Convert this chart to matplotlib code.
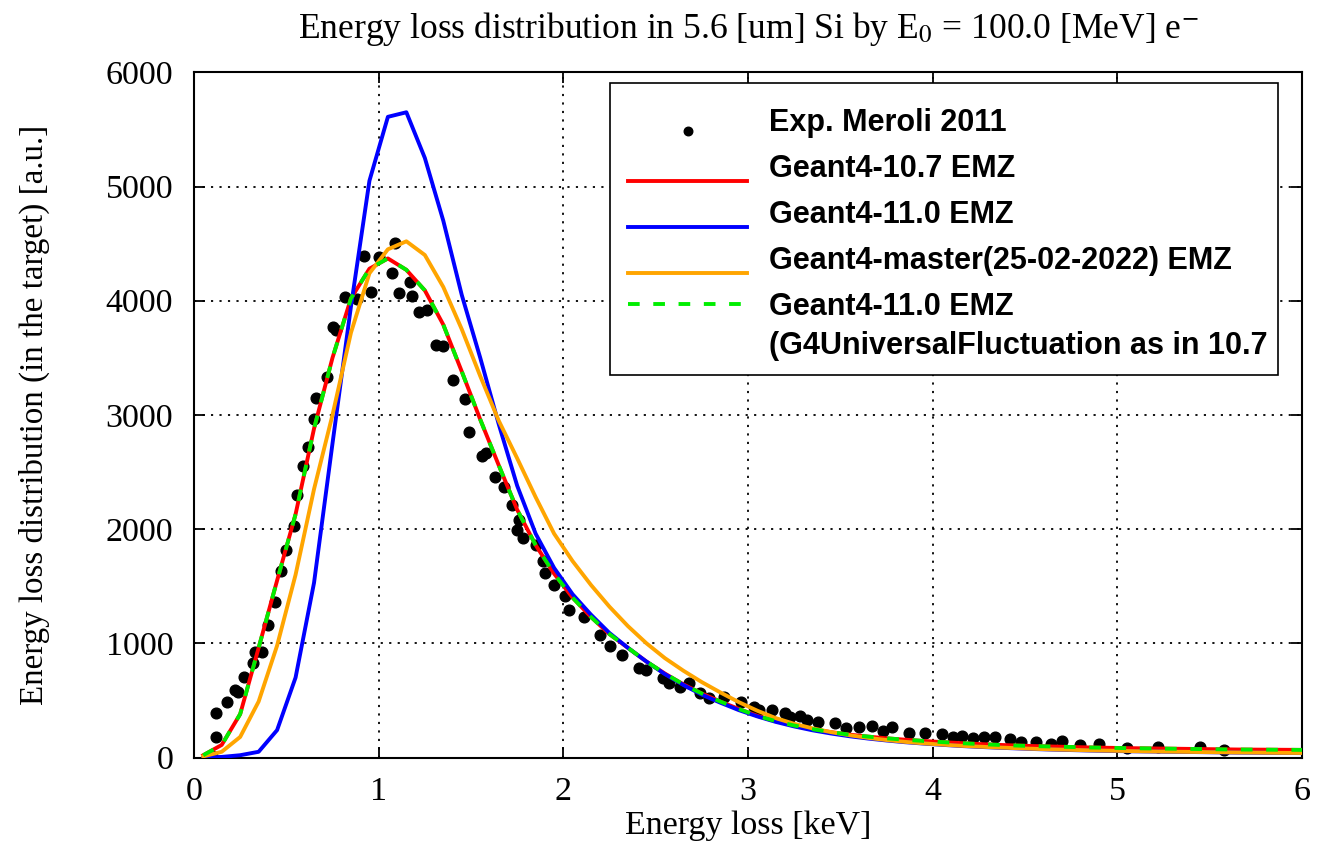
import numpy as np
import matplotlib
matplotlib.use("Agg")
import matplotlib.pyplot as plt
from matplotlib.legend_handler import HandlerLine2D
from matplotlib.font_manager import FontProperties
from matplotlib.patches import Rectangle

plt.rcParams['font.family'] = ['Liberation Serif', 'DejaVu Serif']
plt.rcParams['mathtext.fontset'] = 'stix'

# ---------------- data ----------------
# bin centres of the simulated distributions [keV]
energy_bins = np.round(np.arange(0.05, 6.1, 0.1), 2)

g4_107 = [20, 110, 380, 960, 1550, 2130, 2880, 3500, 4020, 4280,
          4370, 4270, 4090, 3790, 3380, 2960, 2560, 2170, 1860, 1610,
          1400, 1230, 1080, 960, 840, 735, 640, 560, 490, 425,
          365, 318, 280, 248, 222, 200, 183, 168, 156, 145,
          135, 126, 118, 111, 105, 100, 96, 92, 88, 85,
          82, 80, 78, 76, 74, 72, 70, 69, 68, 67, 66]

g4_110 = [0, 5, 20, 50, 240, 700, 1530, 2750, 3950, 5050,
          5610, 5650, 5250, 4700, 4050, 3500, 2920, 2380, 1960, 1660,
          1430, 1250, 1090, 960, 840, 730, 635, 550, 480, 415,
          360, 312, 272, 238, 210, 186, 166, 149, 134, 122,
          111, 101, 93, 86, 80, 74, 69, 65, 61, 58,
          55, 53, 51, 49, 47, 45, 43, 42, 40, 39, 38]

g4_master = [10, 50, 180, 490, 980, 1600, 2350, 3000, 3720, 4240,
             4450, 4520, 4400, 4120, 3750, 3340, 2950, 2620, 2280, 1960,
             1720, 1510, 1320, 1150, 1000, 870, 760, 660, 570, 485,
             410, 345, 295, 255, 222, 195, 172, 153, 137, 124,
             113, 103, 95, 88, 82, 76, 71, 67, 63, 60,
             57, 54, 52, 50, 48, 46, 44, 43, 41, 40, 39]

g4_110_uf107 = [20, 110, 380, 960, 1550, 2130, 2880, 3500, 4020, 4280,
                4370, 4270, 4090, 3790, 3380, 2960, 2560, 2170, 1860, 1610,
                1400, 1230, 1080, 960, 840, 735, 640, 560, 490, 425,
                365, 318, 280, 248, 222, 200, 183, 168, 156, 145,
                135, 126, 118, 111, 105, 100, 96, 92, 88, 85,
                82, 80, 78, 76, 74, 72, 70, 69, 68, 67, 66]

exp_x = [0.10, 0.12, 0.12, 0.18, 0.22, 0.24, 0.27, 0.32, 0.33, 0.37,
         0.40, 0.44, 0.47, 0.50, 0.54, 0.56, 0.59, 0.62, 0.65, 0.66,
         0.72, 0.75, 0.77, 0.82, 0.88, 0.92, 0.96, 1.00, 1.07, 1.09,
         1.11, 1.17, 1.18, 1.22, 1.26, 1.31, 1.35, 1.40, 1.47, 1.49,
         1.56, 1.58, 1.63, 1.68, 1.72, 1.75, 1.76, 1.78, 1.85, 1.89,
         1.90, 1.95, 2.01, 2.03, 2.11, 2.20, 2.25, 2.32, 2.41, 2.45,
         2.54, 2.57, 2.63, 2.68, 2.74, 2.79, 2.87, 2.96, 3.03, 3.06,
         3.13, 3.20, 3.23, 3.28, 3.32, 3.38, 3.47, 3.53, 3.60, 3.67,
         3.73, 3.78, 3.87, 3.96, 4.05, 4.11, 4.16, 4.22, 4.28, 4.34,
         4.42, 4.48, 4.56, 4.64, 4.70, 4.80, 4.90, 5.05, 5.22, 5.45,
         5.58]
exp_y = [10, 182, 387, 483, 591, 576, 708, 830, 927, 927,
         1160, 1359, 1636, 1817, 2027, 2299, 2552, 2722, 2961, 3145,
         3335, 3772, 3743, 4030, 4015, 4391, 4079, 4380, 4240, 4508,
         4070, 4166, 4041, 3904, 3919, 3612, 3603, 3306, 3137, 2853,
         2640, 2664, 2459, 2371, 2211, 1992, 2080, 1919, 1861, 1723,
         1613, 1511, 1414, 1292, 1233, 1073, 976, 898, 781, 766,
         694, 650, 620, 650, 562, 518, 532, 483, 445, 416,
         416, 387, 358, 363, 328, 314, 305, 255, 264, 279,
         235, 264, 217, 212, 206, 182, 191, 168, 177, 177,
         160, 135, 135, 120, 147, 109, 118, 80, 89, 89,
         66]

labels = ["Exp. Meroli 2011",
          "Geant4-10.7 EMZ",
          "Geant4-11.0 EMZ",
          "Geant4-master(25-02-2022) EMZ",
          "Geant4-11.0 EMZ\n(G4UniversalFluctuation as in 10.7"]

x_ticks = [0, 1, 2, 3, 4, 5, 6]
y_ticks = [0, 1000, 2000, 3000, 4000, 5000, 6000]


# ---------------- legend handler that shifts handles vertically ----------------
class ShiftedHandler(HandlerLine2D):
    def __init__(self, shift=0.0, **kw):
        super().__init__(**kw)
        self.shift = shift

    def create_artists(self, legend, orig_handle, xdescent, ydescent, width,
                       height, fontsize, trans):
        arts = super().create_artists(legend, orig_handle, xdescent, ydescent,
                                      width, height, fontsize, trans)
        for a in arts:
            a.set_ydata(np.asarray(a.get_ydata(), dtype=float) - self.shift)
        return arts


# ---------------- figure ----------------
W, H = 1317, 841
AX_L, AX_R, AX_T, AX_B = 194, 1302, 72.3, 757.5
fig = plt.figure(figsize=(W / 100, H / 100), dpi=100)
ax = fig.add_axes([AX_L / W, 1 - AX_B / H, (AX_R - AX_L) / W, (AX_B - AX_T) / H])


def px2ax(px, py):
    return (px - AX_L) / (AX_R - AX_L), (AX_B - py) / (AX_B - AX_T)


lw = 2.8
h_exp, = ax.plot(exp_x, exp_y, 'o', color='black', markersize=7.7,
                 linestyle='none', zorder=3)
h_red, = ax.plot(energy_bins, g4_107, color='#ff0000', lw=lw, zorder=4)
h_blue, = ax.plot(energy_bins, g4_110, color='#0000ff', lw=lw, zorder=5)
h_orange, = ax.plot(energy_bins, g4_master, color='#ffa500', lw=lw, zorder=6)
h_green, = ax.plot(energy_bins, g4_110_uf107, color='#00ee00', lw=lw,
                   dashes=(3, 3.5), zorder=7)

ax.set_xlim(0, 6)
ax.set_ylim(0, 6000)
ax.set_xticks(x_ticks)
ax.set_yticks(y_ticks)
ax.tick_params(direction='in', top=True, right=True, length=8, width=1.3,
               labelsize=24.5)
ax.tick_params(axis='x', pad=14)
ax.tick_params(axis='y', pad=15)
ax.grid(True, color='black', linestyle=(0, (1.2, 3.5)), linewidth=1.3)
for s in ax.spines.values():
    s.set_linewidth(1.5)

ax.set_xlabel("Energy loss [keV]", fontsize=24.5, labelpad=2)
ax.set_ylabel("Energy loss distribution (in the target) [a.u.]",
              fontsize=23.8, labelpad=40)
ax.set_title("Energy loss distribution in 5.6 [um] Si by E$_0$ = 100.0 [MeV] e$^{-}$",
             fontsize=25.6, pad=25)

# legend frame (drawn separately so its padding can match the reference)
bx0, by0 = px2ax(610, 375)
bx1, by1 = px2ax(1278, 83)
ax.add_patch(Rectangle((bx0, by0), bx1 - bx0, by1 - by0, transform=ax.transAxes,
                       facecolor='white', edgecolor='black', lw=1.2, zorder=9))

leg_font = FontProperties(family='Liberation Sans', weight='bold', size=22)
leg = ax.legend([h_exp, h_red, h_blue, h_orange, h_green], labels,
                handler_map={h_exp: ShiftedHandler(8.0),
                             h_red: ShiftedHandler(10.8),
                             h_blue: ShiftedHandler(10.8),
                             h_orange: ShiftedHandler(10.8),
                             h_green: ShiftedHandler(-16.5)},
                loc='upper left', bbox_to_anchor=px2ax(628, 108),
                borderaxespad=0, prop=leg_font, handlelength=3.9,
                handletextpad=0.72, labelspacing=0.52, borderpad=0,
                frameon=False, markerscale=0.8)
leg.get_texts()[4].set_linespacing(1.4)
leg.set_zorder(10)

fig.savefig("out.png", dpi=100)
